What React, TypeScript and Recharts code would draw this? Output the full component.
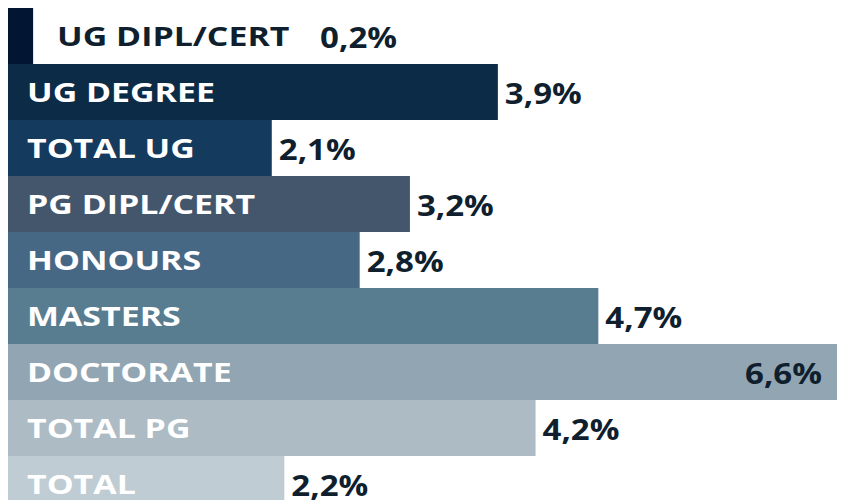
import { BarChart, Bar, XAxis, YAxis, Cell, LabelList } from "recharts";

const CATEGORIES = [
  "UG DIPL/CERT",
  "UG DEGREE",
  "TOTAL UG",
  "PG DIPL/CERT",
  "HONOURS",
  "MASTERS",
  "DOCTORATE",
  "TOTAL PG",
  "TOTAL",
];
const VALUES = [0.2, 3.9, 2.1, 3.2, 2.8, 4.7, 6.6, 4.2, 2.2];

const COLORS = [
  "#021633",
  "#0b2b47",
  "#143a5e",
  "#43566b",
  "#476884",
  "#587d91",
  "#91a5b3",
  "#adbbc5",
  "#c0ccd3",
];

const FONT = "'Open Sans', Lato, sans-serif";
const DARK = "#0f1f2e";

const data = CATEGORIES.map((name, i) => ({ name, value: VALUES[i] }));

const fmt = (v: number) => `${v.toFixed(1).replace(".", ",")}%`;

// draws the category name + value for each bar (wide geometric look via scaleX)
function RowLabel(props: any) {
  const { x, y, width, height, index } = props;
  const v = VALUES[index];
  const mid = y + height / 2;
  const end = x + width;
  const inside = width > 150;
  const nameX = inside ? x + 19 : end + 24;
  const nameFill = inside ? "#ffffff" : DARK;
  const valueInside = width > 780;
  let valueX = end + 7;
  let anchor: "start" | "end" = "start";
  if (valueInside) {
    valueX = end - 15;
    anchor = "end";
  } else if (!inside) {
    valueX = end + 287;
  }
  return (
    <g>
      <text
        transform={`translate(${nameX},${mid + 10}) scale(1.28,1)`}
        fill={nameFill}
        fontFamily={FONT}
        fontWeight={700}
        fontSize={26.5}
      >
        {CATEGORIES[index]}
      </text>
      <text
        transform={`translate(${valueX},${mid + 12}) scale(1.18,1)`}
        fill={DARK}
        textAnchor={anchor}
        fontFamily={FONT}
        fontWeight={700}
        fontSize={28}
      >
        {fmt(v)}
      </text>
    </g>
  );
}

export default function App() {
  return (
    <BarChart
      width={841}
      height={504}
      data={data}
      layout="vertical"
      margin={{ top: 0, right: 12, left: 0, bottom: 0 }}
      barCategoryGap={0}
    >
      <XAxis type="number" domain={[0, 6.6]} hide />
      <YAxis type="category" dataKey="name" hide />
      <Bar dataKey="value" isAnimationActive={false}>
        {data.map((_, i) => (
          <Cell key={i} fill={COLORS[i]} />
        ))}
        <LabelList dataKey="value" content={RowLabel} />
      </Bar>
    </BarChart>
  );
}
